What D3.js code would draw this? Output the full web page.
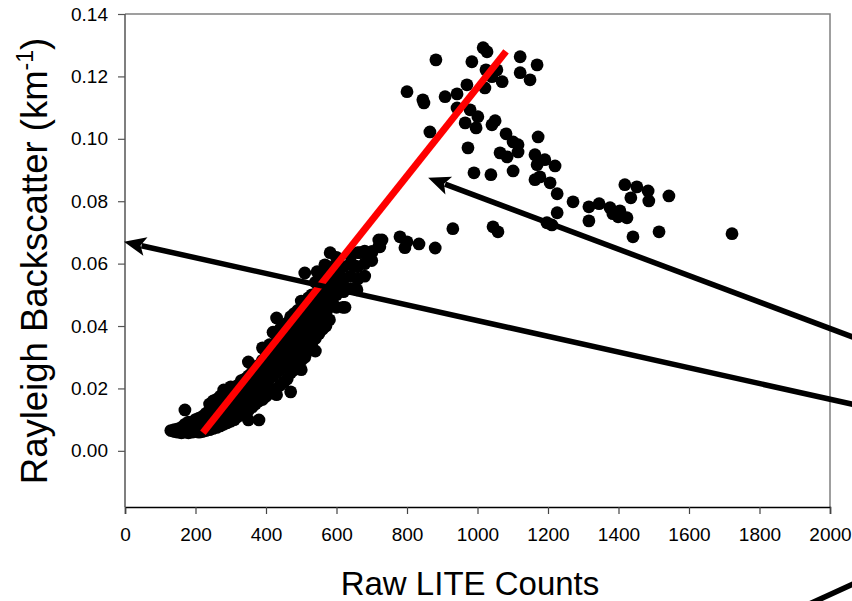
<!DOCTYPE html>
<html>
<head>
<meta charset="utf-8">
<script src="https://cdn.jsdelivr.net/npm/d3@7"></script>
<style>
  body { margin: 0; background: #fff; }
  text { font-family: "Liberation Sans", Arial, sans-serif; }
</style>
</head>
<body>
<script>
// --- data ---
var countsX = [
  130,140,140,150,150,160,160,160,170,170,170,170,180,180,180,180,190,190,190,
  200,200,200,200,210,210,210,210,220,220,220,220,230,230,230,230,
  240,240,240,240,240,250,250,250,250,250,260,260,260,260,260,270,270,270,270,270,
  280,280,280,280,280,290,290,290,290,300,300,300,300,300,310,310,310,310,
  320,320,320,320,330,330,330,330,340,340,340,340,
  350,350,350,350,350,350,360,360,360,360,370,370,370,370,
  380,380,380,380,380,390,390,390,390,390,400,400,400,400,
  410,410,410,410,410,420,420,420,420,420,430,430,430,430,430,430,
  440,440,440,440,440,450,450,450,450,450,460,460,460,460,460,
  470,470,470,470,470,470,480,480,480,480,480,490,490,490,490,490,
  500,500,500,500,500,500,510,510,510,510,510,520,520,520,520,520,
  530,530,530,530,530,540,540,540,540,540,540,545,550,550,550,550,550,
  560,560,560,560,560,567,570,570,570,570,570,580,580,580,580,580,582,
  590,590,590,590,600,600,600,600,600,618,620,620,620,620,624,
  640,640,640,640,647,658,660,660,660,667,680,680,680,689,700,700,701,720,720,723,729,
  780,794,800,834,880,930,
  // upper group
  882,1016,1027,984,1121,1169,1121,1149,1024,1055,1041,1070,1021,970,800,845,848,
  908,942,942,979,1001,965,996,1041,1050,865,973,1081,1101,1115,1172,1064,1084,1115,
  1163,1191,1169,1220,990,1038,1101,1163,1177,1206,1226,1271,1226,1316,1345,1376,
  1404,1384,1424,1399,1316,1418,1452,1484,1435,1486,1543,1441,1515,1722,1197,1211,
  1044,1058
];
var backscatterY = [
  0.0065,0.0062,0.0068,0.0060,0.0070,0.0058,0.0066,0.0075,0.0060,0.0072,0.0085,0.0131,
  0.0058,0.0068,0.0080,0.0092,0.0060,0.0070,0.0085,
  0.0062,0.0075,0.0090,0.0100,0.0060,0.0072,0.0088,0.0105,0.0062,0.0080,0.0095,0.0110,
  0.0065,0.0085,0.0100,0.0120,
  0.0068,0.0090,0.0110,0.0130,0.0150,0.0072,0.0095,0.0115,0.0140,0.0160,
  0.0075,0.0100,0.0125,0.0150,0.0165,0.0080,0.0105,0.0130,0.0155,0.0175,
  0.0085,0.0110,0.0140,0.0170,0.0195,0.0090,0.0120,0.0150,0.0175,
  0.0095,0.0125,0.0160,0.0185,0.0205,0.0100,0.0135,0.0170,0.0200,
  0.0110,0.0145,0.0180,0.0210,0.0115,0.0150,0.0190,0.0225,0.0120,0.0160,0.0200,0.0230,
  0.0099,0.0130,0.0170,0.0210,0.0240,0.0285,0.0140,0.0180,0.0220,0.0250,
  0.0150,0.0190,0.0230,0.0260,
  0.0099,0.0160,0.0200,0.0240,0.0275,0.0165,0.0210,0.0250,0.0290,0.0330,
  0.0175,0.0220,0.0260,0.0300,
  0.0185,0.0230,0.0270,0.0310,0.0340,0.0195,0.0240,0.0280,0.0320,0.0380,
  0.0180,0.0250,0.0290,0.0330,0.0370,0.0426,
  0.0210,0.0260,0.0300,0.0345,0.0390,0.0220,0.0270,0.0310,0.0355,0.0400,
  0.0230,0.0280,0.0320,0.0365,0.0410,
  0.0189,0.0250,0.0290,0.0335,0.0380,0.0430,0.0260,0.0300,0.0345,0.0390,0.0440,
  0.0270,0.0315,0.0360,0.0405,0.0450,
  0.0260,0.0290,0.0330,0.0370,0.0420,0.0480,0.0300,0.0345,0.0385,0.0430,0.0570,
  0.0320,0.0360,0.0400,0.0445,0.0490,
  0.0335,0.0375,0.0415,0.0460,0.0500,0.0320,0.0360,0.0390,0.0430,0.0475,0.0540,
  0.0574,0.0375,0.0405,0.0445,0.0490,0.0520,
  0.0390,0.0420,0.0460,0.0505,0.0560,0.0596,0.0400,0.0440,0.0480,0.0520,0.0550,
  0.0420,0.0460,0.0500,0.0540,0.0570,0.0635,
  0.0470,0.0515,0.0555,0.0590,0.0460,0.0500,0.0530,0.0575,0.0620,0.0460,
  0.0510,0.0550,0.0590,0.0520,0.0460,
  0.0520,0.0560,0.0600,0.0625,0.0596,0.0516,0.0550,0.0590,0.0635,0.0635,
  0.0560,0.0600,0.0640,0.0622,0.0610,0.0638,0.0638,0.0655,0.0676,0.0654,0.0676,
  0.0686,0.0651,0.0670,0.0663,0.0650,0.0712,
  0.1253,0.1292,0.1279,0.1247,0.1263,0.1237,0.1212,0.1189,0.1221,0.1221,0.1199,0.1183,
  0.1163,0.1173,0.1151,0.1125,0.1115,
  0.1135,0.1144,0.1099,0.1093,0.1071,0.1051,0.1035,0.1045,0.1058,0.1022,0.0971,0.1016,
  0.0990,0.0981,0.1006,0.0955,0.0942,0.0958,
  0.0949,0.0933,0.0917,0.0913,0.0891,0.0885,0.0897,0.0869,0.0878,0.0859,0.0824,0.0798,
  0.0763,0.0782,0.0792,0.0779,
  0.0769,0.0760,0.0747,0.0750,0.0737,0.0853,0.0846,0.0833,0.0811,0.0801,0.0817,0.0686,
  0.0702,0.0696,0.0731,0.0724,
  0.0718,0.0702
];
// fitted line (red) ends
var fitX = [221, 1081];
var fitY = [0.0058, 0.128];
// annotation arrows: [tailX, tailY, tipX, tipY] in data units
var arrow1 = [2085, 0.0144, -3, 0.0670];
var arrow2 = [2085, 0.0356, 860, 0.0875];
var strayLine = [1943, -0.049, 2085, -0.0417];

var xTicks = [0,200,400,600,800,1000,1200,1400,1600,1800,2000];
var yTicks = [0.00,0.02,0.04,0.06,0.08,0.10,0.12,0.14];

var width = 852, height = 601;
var plotL = 125, plotR = 830, plotT = 14, plotB = 507;

var svg = d3.select("body").append("svg")
  .attr("width", width).attr("height", height);

var x = d3.scaleLinear().domain([0, 2000]).range([plotL, plotR]);
var y = d3.scaleLinear().domain([-0.018, 0.14]).range([plotB, plotT]);

// frame (top + right, grey)
svg.append("path")
  .attr("d", "M" + plotL + "," + plotT + "H" + plotR + "V" + plotB)
  .attr("fill", "none").attr("stroke", "#808080").attr("stroke-width", 1.5);

// axes
var xAxis = svg.append("g").attr("transform", "translate(0," + plotB + ")")
  .call(d3.axisBottom(x).tickValues(xTicks).tickFormat(d3.format("d")).tickSizeOuter(0).tickSize(7).tickPadding(14));
var yAxis = svg.append("g").attr("transform", "translate(" + plotL + ",0)")
  .call(d3.axisLeft(y).tickValues(yTicks).tickFormat(d3.format(".2f")).tickSizeOuter(0).tickSize(7).tickPadding(10));

xAxis.select(".domain").attr("stroke", "#000").attr("stroke-width", 1.5);
xAxis.selectAll(".tick line").attr("stroke", "#444").attr("stroke-width", 1.2);
yAxis.select(".domain").attr("stroke", "#555").attr("stroke-width", 1.5)
  .attr("d", "M0," + plotB + "V" + plotT);
yAxis.selectAll(".tick line").attr("stroke", "#555").attr("stroke-width", 1.2);
svg.selectAll(".tick text")
  .attr("font-family", "Liberation Sans, Arial, sans-serif")
  .attr("font-size", 19).attr("fill", "#000");

// dots
var pts = countsX.map(function(d, i) { return [d, backscatterY[i]]; });
svg.append("g").selectAll("circle").data(pts).enter().append("circle")
  .attr("cx", function(d) { return x(d[0]); })
  .attr("cy", function(d) { return y(d[1]); })
  .attr("r", 6.4)
  .attr("fill", "#000");

// red fit line
svg.append("line")
  .attr("x1", x(fitX[0])).attr("y1", y(fitY[0]))
  .attr("x2", x(fitX[1])).attr("y2", y(fitY[1]))
  .attr("stroke", "#ff0000").attr("stroke-width", 7);

// arrows
function drawArrow(a) {
  var x1 = x(a[0]), y1 = y(a[1]), x2 = x(a[2]), y2 = y(a[3]);
  var dx = x2 - x1, dy = y2 - y1, len = Math.sqrt(dx * dx + dy * dy);
  var ux = dx / len, uy = dy / len;
  var headL = 22, headW = 9.5;
  var bx = x2 - ux * headL, by = y2 - uy * headL;
  svg.append("line")
    .attr("x1", x1).attr("y1", y1).attr("x2", bx + ux * 4).attr("y2", by + uy * 4)
    .attr("stroke", "#000").attr("stroke-width", 5.5);
  svg.append("path")
    .attr("d", "M" + x2 + "," + y2 +
      "L" + (bx - uy * headW) + "," + (by + ux * headW) +
      "L" + (bx + ux * 5) + "," + (by + uy * 5) +
      "L" + (bx + uy * headW) + "," + (by - ux * headW) + "Z")
    .attr("fill", "#000");
}
drawArrow(arrow1);
drawArrow(arrow2);

svg.append("line")
  .attr("x1", x(strayLine[0])).attr("y1", y(strayLine[1]))
  .attr("x2", x(strayLine[2])).attr("y2", y(strayLine[3]))
  .attr("stroke", "#000").attr("stroke-width", 5.5);

// axis titles
svg.append("text")
  .attr("x", 470).attr("y", 595)
  .attr("text-anchor", "middle")
  .attr("font-size", 33)
  .text("Raw LITE Counts");

var yt = svg.append("text")
  .attr("transform", "translate(47,261) rotate(-90)")
  .attr("text-anchor", "middle")
  .attr("font-size", 36.5);
yt.append("tspan").text("Rayleigh Backscatter (km");
yt.append("tspan").attr("font-size", 23).attr("dy", -14).text("-1");
yt.append("tspan").attr("dy", 14).text(")");
</script>
</body>
</html>
